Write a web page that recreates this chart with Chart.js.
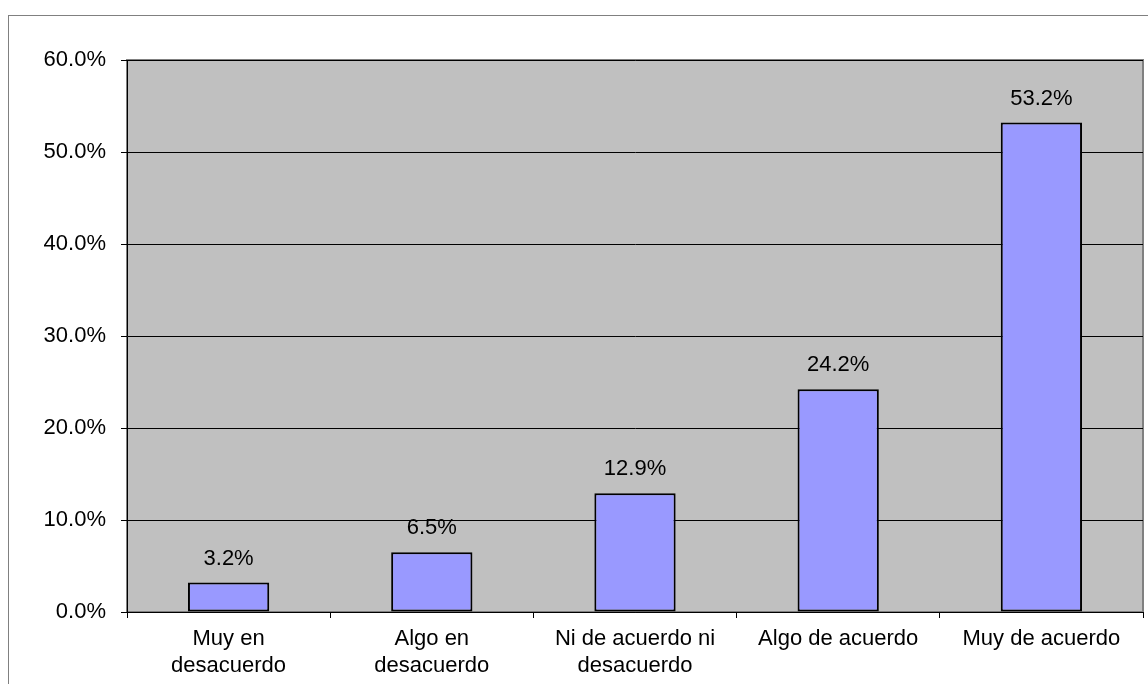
<!DOCTYPE html>
<html>
<head>
<meta charset="utf-8">
<script src="https://cdn.jsdelivr.net/npm/chart.js@4"></script>
<style>
  body { margin: 0; background: #fff; }
  #chart { display: block; }
</style>
</head>
<body>
<canvas id="chart" width="1148" height="684"></canvas>
<script>
// Chart data
const categories = [
    ['Muy en', 'desacuerdo'],
    ['Algo en', 'desacuerdo'],
    ['Ni de acuerdo ni', 'desacuerdo'],
    'Algo de acuerdo',
    'Muy de acuerdo'
];
const percentages = [3.2, 6.5, 12.9, 24.2, 53.2];
const yTicks = [0, 10, 20, 30, 40, 50, 60];

const FONT = 'Arial, "Liberation Sans", sans-serif';

// white page, outer frame and grey plot area
const backgroundPlugin = {
    id: 'bg',
    beforeDraw(chart) {
        const ctx = chart.ctx;
        const a = chart.chartArea;
        ctx.save();
        ctx.fillStyle = '#ffffff';
        ctx.fillRect(0, 0, chart.width, chart.height);
        ctx.strokeStyle = '#808080';
        ctx.lineWidth = 1;
        ctx.strokeRect(8.5, 15.5, chart.width + 20, chart.height + 20);
        ctx.fillStyle = '#c0c0c0';
        ctx.fillRect(a.left, a.top, a.right - a.left, a.bottom - a.top);
        ctx.strokeStyle = '#808080';
        ctx.lineWidth = 2;
        ctx.strokeRect(a.left, a.top, a.right - a.left, a.bottom - a.top);
        ctx.restore();
    }
};

// value labels above each bar
const valueLabels = {
    id: 'valueLabels',
    afterDatasetsDraw(chart) {
        const ctx = chart.ctx;
        const meta = chart.getDatasetMeta(0);
        ctx.save();
        ctx.font = '22px ' + FONT;
        ctx.fillStyle = '#000';
        ctx.textAlign = 'center';
        ctx.textBaseline = 'alphabetic';
        meta.data.forEach((bar, i) => {
            ctx.fillText(percentages[i].toFixed(1) + '%', bar.x, bar.y - 18);
        });
        ctx.restore();
    }
};

const ctx = document.getElementById('chart').getContext('2d');
new Chart(ctx, {
    type: 'bar',
    data: {
        labels: categories,
        datasets: [{
            data: percentages,
            backgroundColor: '#9999ff',
            borderColor: '#000000',
            borderWidth: 2,
            borderSkipped: false,
            barPercentage: 0.4,
            categoryPercentage: 1.0
        }]
    },
    options: {
        responsive: false,
        animation: false,
        devicePixelRatio: 1,
        layout: { padding: { top: 60, right: 5, left: 0, bottom: 0 } },
        plugins: {
            legend: { display: false },
            tooltip: { enabled: false }
        },
        scales: {
            x: {
                grid: {
                    offset: true,
                    drawOnChartArea: false,
                    color: '#000',
                    tickLength: 6
                },
                border: { color: '#000', width: 1 },
                ticks: {
                    color: '#000',
                    font: { family: FONT, size: 22, lineHeight: 1.2 },
                    padding: 8,
                    maxRotation: 0,
                    autoSkip: false
                },
                afterFit(scale) { scale.height = 72; }
            },
            y: {
                min: 0,
                max: 60,
                afterBuildTicks(scale) {
                    scale.ticks = yTicks.map(v => ({ value: v }));
                },
                grid: {
                    color: '#000',
                    tickLength: 6
                },
                border: { color: '#000', width: 1 },
                ticks: {
                    color: '#000',
                    font: { family: FONT, size: 22 },
                    padding: 15,
                    callback: v => v.toFixed(1) + '%'
                },
                afterFit(scale) { scale.width = 127; }
            }
        }
    },
    plugins: [backgroundPlugin, valueLabels]
});
</script>
</body>
</html>
